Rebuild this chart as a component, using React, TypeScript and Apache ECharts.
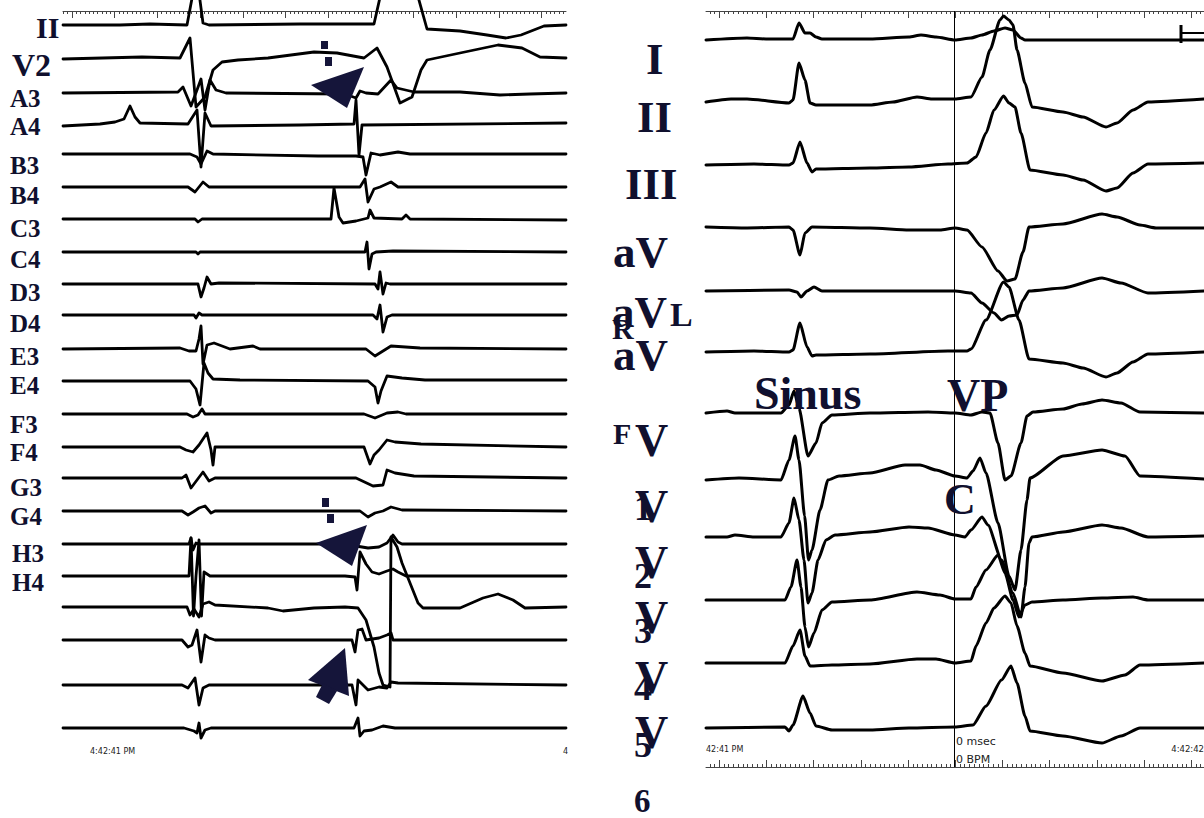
import React, { useEffect, useRef } from "react";
import * as echarts from "echarts";

// ---------- channel offsets (baseline position of each channel) ----------
const leftOffsets = [25, 59, 93, 125, 154, 187, 219, 252, 284, 315, 349, 381, 414, 447, 478, 511, 544, 576, 607, 640, 685, 728];
const rightOffsets = [40, 101, 164, 227, 291, 351, 413, 479, 536, 600, 663, 727];

// ---------- left panel traces: [time, deflection] ----------
const trII = [[63,0],[120,0],[150,1],[187,0],[193,32],[199,32],[203,2],[209,0],[300,1],[374,1],[381,32],[417,32],[427,-4],[460,-6],[487,-10],[506,-13],[521,-10],[544,-1],[566,0]];
const trV2 = [[63,0],[142,2],[180,1],[190,21],[196,-48],[205,-38],[213,-11],[222,-3],[238,-1],[268,1],[314,7],[337,6],[364,1],[377,11],[387,-8],[400,-44],[412,-38],[421,-11],[427,-1],[460,6],[498,14],[522,11],[540,2],[566,1]];
const trA3 = [[63,0],[178,1],[183,6],[191,-13],[197,3],[201,14],[205,-17],[210,13],[216,3],[226,0],[345,-1],[356,-5],[360,2],[366,0],[378,-1],[391,13],[397,5],[414,1],[460,1],[500,-2],[530,-1],[566,0]];
const trA4 = [[63,-1],[100,1],[115,3],[124,6],[130,19],[135,8],[140,2],[188,1],[197,15],[201,-42],[205,12],[211,-1],[300,0],[354,1],[356,25],[359,-30],[362,0],[566,2]];
const trB3 = [[63,0],[190,0],[197,-3],[201,-10],[207,3],[213,0],[318,-2],[356,-2],[363,-3],[366,-21],[371,1],[380,-1],[398,2],[410,0],[566,0]];
const trB4 = [[63,0],[188,0],[195,-5],[203,5],[209,0],[360,0],[365,8],[368,-15],[374,-2],[380,0],[391,5],[398,0],[566,0]];
const trC3 = [[63,0],[195,0],[198,-3],[202,0],[331,0],[334,31],[339,2],[343,-4],[356,-2],[368,1],[370,9],[374,1],[402,0],[406,4],[410,0],[566,-1]];
const trC4 = [[63,0],[196,0],[198,-2],[200,0],[365,0],[367,10],[369,-17],[372,-2],[376,0],[393,1],[566,0]];
const trD3 = [[63,0],[198,0],[201,-13],[204,-4],[207,7],[211,0],[219,1],[375,0],[378,-5],[380,12],[383,-10],[386,1],[390,0],[566,0]];
const trD4 = [[63,0],[194,0],[196,-3],[199,2],[202,0],[373,0],[377,-4],[380,10],[383,-17],[387,-2],[392,0],[566,0]];
const trE3 = [[63,0],[180,1],[189,-2],[196,-2],[199,10],[201,23],[203,-15],[207,4],[214,6],[230,0],[253,3],[260,0],[366,0],[375,-7],[383,-2],[391,3],[420,1],[566,0]];
const trE4 = [[63,0],[190,0],[196,-8],[200,-24],[204,18],[208,8],[213,2],[240,1],[368,0],[375,-6],[378,-22],[381,-10],[387,5],[402,3],[425,1],[520,1],[566,1]];
const trF3 = [[63,0],[187,0],[193,-3],[198,-1],[202,5],[205,0],[364,0],[375,-4],[387,1],[398,2],[406,0],[566,0]];
const trF4 = [[63,0],[180,0],[186,-3],[193,-5],[199,2],[207,14],[211,-3],[213,-18],[215,0],[364,0],[370,-17],[374,-8],[379,-3],[387,7],[395,5],[421,3],[566,0]];
const trG3 = [[63,0],[182,0],[186,3],[191,-10],[197,-2],[203,6],[209,-3],[215,0],[356,0],[373,-8],[383,-7],[387,8],[395,5],[414,2],[566,0]];
const trG4 = [[63,0],[182,0],[188,-4],[193,-1],[199,3],[205,5],[211,-2],[215,0],[360,0],[368,-6],[375,-2],[383,0],[391,4],[402,1],[566,0]];
const trH3 = [[63,0],[189,0],[191,6],[193,-6],[196,1],[200,0],[345,0],[356,-2],[368,-4],[379,-3],[387,1],[393,9],[398,2],[402,0],[566,0]];
const trH4 = [[63,0],[189,0],[191,38],[193.5,-40],[196,0],[199,36],[201.5,-40],[204,4],[210,0],[345,0],[355,-1],[357,-14],[360,24],[366,12],[372,4],[379,2],[387,5],[393,7],[398,4],[406,0],[566,0]];
const trL19 = [[63,0],[187,0],[190,-8],[194,-2],[199,-10],[203,3],[209,5],[215,2],[268,-1],[283,-4],[314,-1],[345,0],[358,-1],[366,-13],[374,-40],[379,-66],[383,-78],[390,-80],[391,70],[397,60],[402,44],[410,24],[418,4],[423,-1],[460,-1],[483,9],[498,13],[513,7],[525,-1],[566,0]];
const trL20 = [[63,0],[182,0],[188,-7],[192,-5],[197,10],[201,-22],[205,5],[209,2],[215,0],[352,0],[355,-12],[358,10],[362,11],[366,0],[379,2],[387,5],[391,7],[393,0],[566,0]];
const trL21 = [[63,0],[182,0],[188,-3],[195,7],[199,-20],[203,-3],[209,0],[352,0],[356,-20],[358,5],[362,1],[368,-5],[379,-2],[387,-3],[391,3],[398,2],[566,0]];
const trL22 = [[63,0],[184,0],[194,-3],[197,-5],[199,5],[201,-10],[205,-2],[211,0],[354,0],[358,10],[360,-8],[364,-3],[372,-2],[383,2],[395,0],[566,0]];

// ---------- right panel traces: [time, deflection] ----------
const trI = [[706,0],[747,2],[766,1],[793,1],[799,17],[805,7],[810,7],[816,3],[822,1],[870,1],[909,3],[921,5],[936,3],[955,0],[971,2],[982,5],[994,9],[1005,12],[1013,10],[1021,2],[1025,0],[1204,0]];
const trII2 = [[706,-1],[731,2],[747,2],[789,-2],[793,1],[799,38],[805,21],[810,-2],[816,-4],[870,-4],[893,-1],[917,4],[932,2],[955,2],[971,4],[982,24],[990,51],[1000,81],[1003.5,85],[1009,81],[1013,76],[1017,51],[1025,18],[1032,-6],[1063,-11],[1083,-16],[1106,-26],[1117,-22],[1133,-9],[1148,-1],[1204,2]];
const trIII = [[706,-1],[754,0],[789,-1],[793,1],[800,22],[807,1],[812,-8],[816,-5],[870,-4],[909,-3],[948,0],[967,1],[976,7],[986,31],[994,54],[1003.5,68],[1009,61],[1015,57],[1021,31],[1030,-6],[1063,-11],[1083,-16],[1106,-27],[1117,-24],[1133,-9],[1148,0],[1204,1]];
const trAVR = [[706,0],[747,-1],[789,0],[793,-3],[800,-28],[805,-6],[812,0],[870,-1],[909,-3],[940,-3],[955,-1],[967,-3],[982,-20],[998,-44],[1007,-54],[1015,-52],[1023,-25],[1029,0],[1063,3],[1102,13],[1117,10],[1140,2],[1156,-1],[1204,-1]];
const trAVL = [[706,0],[789,1],[797,-1],[801,-6],[807,0],[814,4],[822,0],[955,0],[971,-2],[982,-12],[994,-22],[1001.5,-29],[1009,-25],[1017,-24],[1023,-9],[1029,0],[1063,3],[1102,13],[1121,8],[1148,-2],[1204,0]];
const trAVF = [[706,-1],[754,0],[789,-1],[793,1],[800,28],[807,4],[812,-5],[816,-4],[870,-3],[948,0],[967,0],[971,2],[986,31],[1003.5,69],[1009,64],[1019,31],[1029,-8],[1063,-12],[1083,-17],[1106,-26],[1117,-22],[1133,-11],[1148,-3],[1204,-1]];
const trV1 = [[706,0],[727,2],[735,0],[754,0],[781,0],[789,8],[794,22],[799,5],[808,-43],[816,-30],[822,-10],[832,-2],[870,0],[928,1],[955,0],[971,-2],[982,1],[990,0],[998,-30],[1005,-67],[1011,-63],[1021,-30],[1027,-3],[1033,1],[1063,4],[1082,9],[1102,13],[1121,10],[1140,1],[1204,0]];
const trV2r = [[706,-1],[739,1],[781,-1],[789,19],[795,43],[799,19],[804.6,-37],[808.5,-81],[812,-71],[820,-31],[828,-1],[839,3],[870,6],[905,14],[920,14],[936,9],[955,3],[967,1],[973,8],[980,21],[986,6],[998,-44],[1009,-97],[1015,-111],[1021,-71],[1027,-21],[1030,1],[1063,23],[1102,29],[1125,23],[1140,3],[1204,0]];
const trV3 = [[706,-1],[727,-1],[735,1],[754,-1],[781,-1],[789,13],[794,38],[799,16],[804,-24],[808,-67],[812,-57],[818,-24],[826,-4],[835,1],[870,4],[909,9],[928,8],[955,1],[965,-1],[971,6],[982,19],[988,11],[1001.5,-24],[1013,-57],[1021,-81],[1025,-51],[1029,-7],[1032,-1],[1063,4],[1102,11],[1121,8],[1148,-1],[1204,0]];
const trV4 = [[706,0],[785,0],[791,13],[797,40],[801,13],[805,-27],[808.5,-47],[814,-33],[822,-10],[832,-2],[870,0],[917,8],[940,5],[955,1],[971,1],[976,13],[986,30],[998,45],[1005,27],[1013,0],[1019,-17],[1025,-5],[1032,-2],[1063,0],[1102,2],[1133,3],[1148,0],[1204,0]];
const trV5 = [[706,0],[785,0],[793,17],[800,33],[805,7],[810,-3],[832,-2],[870,-1],[917,4],[936,4],[955,0],[971,2],[976,17],[986,40],[994,55],[1005,67],[1011,60],[1017,37],[1025,10],[1030,-3],[1063,-10],[1102,-18],[1125,-12],[1140,-2],[1204,0]];
const trV6 = [[706,-1],[785,0],[789,-4],[793,2],[803,31],[810,14],[816,1],[832,-3],[870,-3],[909,-1],[955,0],[973,2],[986,21],[1001.5,47],[1011,61],[1017,44],[1025,11],[1030,-4],[1063,-9],[1102,-16],[1121,-9],[1140,-1],[1204,-1]];

const leftTraces = [trII, trV2, trA3, trA4, trB3, trB4, trC3, trC4, trD3, trD4, trE3, trE4, trF3, trF4, trG3, trG4, trH3, trH4, trL19, trL20, trL21, trL22];
const rightTraces = [trI, trII2, trIII, trAVR, trAVL, trAVF, trV1, trV2r, trV3, trV4, trV5, trV6];

// ---------- labels ----------
const leftLabels = ["II", "V2", "A3", "A4", "B3", "B4", "C3", "C4", "D3", "D4", "E3", "E4", "F3", "F4", "G3", "G4", "H3", "H4"];
const timeLabels = ["4:42:41 PM", "4", "42:41 PM", "4:42:42"];
const markerLabels = ["0 msec", "0 BPM"];

// ruler ticks (time grid)
const leftRulerMajor: number[] = [];
const leftRulerMinor: number[] = [];
for (let k = -2; k < 130; k++) {
  const v = 72 + k * 4.27;
  if (v >= 63 && v <= 566) (k % 10 === 0 ? leftRulerMajor : leftRulerMinor).push(v);
}
const rightRulerMajor: number[] = [];
const rightRulerMinor: number[] = [];
for (let k = -2; k < 110; k++) {
  const v = 719.3 + k * 4.72;
  if (v >= 706 && v <= 1204) (k % 10 === 0 ? rightRulerMajor : rightRulerMinor).push(v);
}

const NAVY = "#10102e";
const SERIF = "'Liberation Serif', 'DejaVu Serif', serif";
const SANS = "'DejaVu Sans', sans-serif";

function label(text: string, x: number, y: number, size: number) {
  return {
    type: "text",
    x,
    y,
    z: 20,
    silent: true,
    style: { text, font: `bold ${size}px ${SERIF}`, fill: NAVY, align: "left", verticalAlign: "middle" },
  };
}
function small(text: string, x: number, y: number, size: number, align = "left") {
  return {
    type: "text",
    x,
    y,
    z: 20,
    silent: true,
    style: { text, font: `${size}px ${SANS}`, fill: "#222", align, verticalAlign: "middle" },
  };
}

export default function App() {
  const ref = useRef<HTMLDivElement>(null);
  useEffect(() => {
    if (!ref.current) return;
    const chart = echarts.init(ref.current, undefined, { renderer: "svg" });

    const leftLabelY = [27, 65, 98, 126, 165, 195, 228, 259, 292, 323, 356, 385, 424, 452, 487, 516, 553, 582];
    const leftLabelX = [36, 12, 10, 10, 10, 10, 10, 10, 10, 10, 10, 10, 10, 10, 10, 10, 12, 12];
    const leftLabelSize = [30, 32, 25, 25, 25, 25, 25, 25, 25, 25, 25, 25, 25, 25, 25, 25, 25, 25];

    const graphics: any[] = [];
    leftLabels.forEach((t, i) => graphics.push(label(t, leftLabelX[i], leftLabelY[i], leftLabelSize[i])));

    // right side labels (overlapping as in the source figure)
    graphics.push(label("I", 646, 59, 45));
    graphics.push(label("II", 637, 117, 45));
    graphics.push(label("III", 625, 184, 45));
    graphics.push(label("aV", 613, 252, 45));
    graphics.push(label("aV", 612, 312, 45));
    graphics.push(label("L", 670, 314, 34));
    graphics.push(label("R", 612, 328, 30));
    graphics.push(label("aV", 613, 355, 45));
    graphics.push(label("Sinus", 754, 393, 46));
    graphics.push(label("VP", 947, 395, 46));
    graphics.push(label("F", 613, 433, 30));
    graphics.push(label("C", 944, 499, 44));
    const vY = [440, 506, 562, 617, 677, 732];
    const dY = [508, 576, 631, 688, 745, 801];
    vY.forEach((y) => graphics.push(label("V", 635, y, 46)));
    dY.forEach((y, i) => graphics.push(label(String(i + 1), 634, y, i === 5 ? 33 : 36)));

    // time stamps
    graphics.push(small(timeLabels[0], 90, 751, 8));
    graphics.push(small(timeLabels[1], 563, 751, 8));
    graphics.push(small(timeLabels[2], 706, 749, 8));
    graphics.push(small(timeLabels[3], 1204, 749, 8.5, "right"));
    graphics.push(small(markerLabels[0], 956, 741, 11));
    graphics.push(small(markerLabels[1], 956, 759, 11));

    // cursor line
    graphics.push({ type: "line", z: 5, silent: true, shape: { x1: 954.5, y1: 11, x2: 954.5, y2: 767 }, style: { stroke: "#000", lineWidth: 1 } });
    // calibration mark
    graphics.push({ type: "line", z: 5, silent: true, shape: { x1: 1181, y1: 25, x2: 1181, y2: 43 }, style: { stroke: "#000", lineWidth: 3 } });
    graphics.push({ type: "line", z: 5, silent: true, shape: { x1: 1181, y1: 33, x2: 1204, y2: 33 }, style: { stroke: "#000", lineWidth: 2 } });

    // annotation arrows
    const AR = "#15153a";
    graphics.push({ type: "polygon", z: 15, silent: true, shape: { points: [[311, 85], [364, 67], [347, 108]] }, style: { fill: AR } });
    graphics.push({ type: "rect", z: 15, silent: true, shape: { x: 321, y: 41, width: 7, height: 8 }, style: { fill: AR } });
    graphics.push({ type: "rect", z: 15, silent: true, shape: { x: 325, y: 57, width: 7, height: 9 }, style: { fill: AR } });
    graphics.push({ type: "polygon", z: 15, silent: true, shape: { points: [[316, 543], [367, 525], [352, 566]] }, style: { fill: AR } });
    graphics.push({ type: "rect", z: 15, silent: true, shape: { x: 322, y: 498, width: 7, height: 9 }, style: { fill: AR } });
    graphics.push({ type: "rect", z: 15, silent: true, shape: { x: 327, y: 514, width: 7, height: 9 }, style: { fill: AR } });
    graphics.push({ type: "polygon", z: 15, silent: true, shape: { points: [[345, 648], [308, 680], [349, 696]] }, style: { fill: AR } });
    graphics.push({ type: "polygon", z: 15, silent: true, shape: { points: [[323, 683], [337, 691], [329, 704], [316, 697]] }, style: { fill: AR } });

    const series: any[] = [];
    leftTraces.forEach((tr, i) =>
      series.push({
        type: "line",
        xAxisIndex: 0,
        yAxisIndex: 0,
        data: tr.map((p) => [p[0], p[1] - leftOffsets[i]]),
        symbol: "none",
        silent: true,
        lineStyle: { color: "#000", width: 2.8, join: "round", cap: "round" },
      })
    );
    rightTraces.forEach((tr, i) =>
      series.push({
        type: "line",
        xAxisIndex: 1,
        yAxisIndex: 1,
        data: tr.map((p) => [p[0], p[1] - rightOffsets[i]]),
        symbol: "none",
        silent: true,
        smooth: 0.2,
        smoothMonotone: "x",
        lineStyle: { color: "#000", width: 3, join: "round", cap: "round" },
      })
    );

    const hidden = { show: false };
    const rulerAxis = (gridIndex: number, position: string, min: number, max: number, ticks: number[], len: number, line: boolean) => ({
      type: "value",
      gridIndex,
      position,
      min,
      max,
      axisLine: { show: line, onZero: false, lineStyle: { color: "#444", width: 1 } },
      axisTick: { show: true, inside: true, length: len, customValues: ticks, lineStyle: { color: "#444", width: 1 } },
      axisLabel: { show: false },
      splitLine: { show: false },
    });

    chart.setOption({
      animation: false,
      backgroundColor: "#fff",
      grid: [
        { left: 63, top: 0, width: 503, height: 818 },
        { left: 706, top: 0, width: 498, height: 818 },
        { left: 63, top: 11, width: 503, height: 20 },
        { left: 706, top: 11, width: 498, height: 20 },
        { left: 706, top: 747, width: 498, height: 20 },
      ],
      xAxis: [
        { type: "value", gridIndex: 0, min: 63, max: 566, show: false },
        { type: "value", gridIndex: 1, min: 706, max: 1204, show: false },
        rulerAxis(2, "top", 63, 566, leftRulerMajor, 7, true),
        rulerAxis(2, "top", 63, 566, leftRulerMinor, 3, false),
        rulerAxis(3, "top", 706, 1204, rightRulerMajor, 7, true),
        rulerAxis(3, "top", 706, 1204, rightRulerMinor, 3, false),
        rulerAxis(4, "bottom", 706, 1204, rightRulerMajor, 7, true),
        rulerAxis(4, "bottom", 706, 1204, rightRulerMinor, 3, false),
      ],
      yAxis: [
        { type: "value", gridIndex: 0, min: -818, max: 0, show: false },
        { type: "value", gridIndex: 1, min: -818, max: 0, show: false },
        { type: "value", gridIndex: 2, min: 0, max: 1, ...hidden },
        { type: "value", gridIndex: 3, min: 0, max: 1, ...hidden },
        { type: "value", gridIndex: 4, min: 0, max: 1, ...hidden },
      ],
      graphic: graphics,
      series,
    });
    return () => chart.dispose();
  }, []);
  return <div ref={ref} style={{ position: "fixed", left: 0, top: 0, width: 1204, height: 818, background: "#fff" }} />;
}
